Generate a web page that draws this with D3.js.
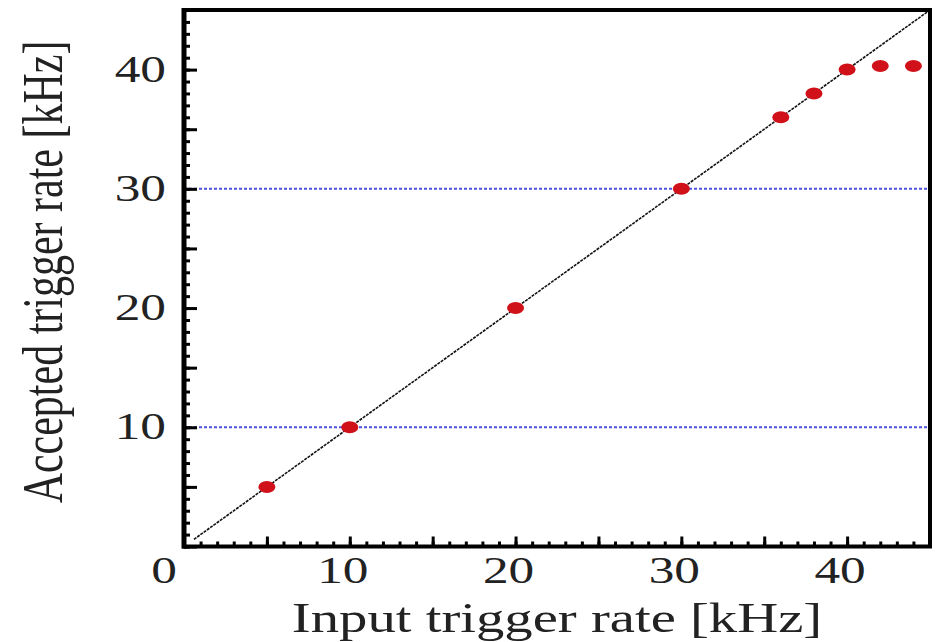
<!DOCTYPE html>
<html>
<head>
<meta charset="utf-8">
<script src="https://cdn.jsdelivr.net/npm/d3@7"></script>
<style>
	body{margin:0;background:#fff;}
	svg{display:block;}
</style>
</head>
<body>
<div class="chart"></div>
<script>
//data
const inputRate = [5, 10, 20, 30, 36, 38, 40, 42, 44];
const acceptedRate = [5, 10, 20, 30, 36, 38, 40, 40.3, 40.3];
const refLines = [10, 30];
const diagonal = [0.6, 45];
const yLabels = [10, 20, 30, 40];
const xLabels = [0, 10, 20, 30, 40];

const W = 939;
const H = 642;
const sx = 1.35; //picture is stretched sideways

const svg = d3.select('.chart')
	.append('svg')
	.attr('width', W)
	.attr('height', H);

const scaleX = d3.scaleLinear()
	.domain([0, 45])
	.range([184, 930]);
const scaleY = d3.scaleLinear()
	.domain([0, 45])
	.range([546.5, 10]);

//blue dotted reference lines
svg.selectAll('.ref')
	.data(refLines)
	.enter()
	.append('line')
	.attr('class', 'ref')
	.attr('x1', scaleX(0))
	.attr('x2', scaleX(45))
	.attr('y1', d => scaleY(d))
	.attr('y2', d => scaleY(d))
	.attr('stroke', '#5252e2')
	.attr('stroke-width', 2)
	.attr('stroke-dasharray', '3,2');

//diagonal y = x
svg.append('line')
	.attr('x1', scaleX(diagonal[0]))
	.attr('y1', scaleY(diagonal[0]))
	.attr('x2', scaleX(diagonal[1]))
	.attr('y2', scaleY(diagonal[1]))
	.attr('stroke', '#111')
	.attr('stroke-width', 1.6)
	.attr('stroke-dasharray', '3,1');

//points
svg.selectAll('.pt')
	.data(inputRate)
	.enter()
	.append('ellipse')
	.attr('class', 'pt')
	.attr('cx', d => scaleX(d))
	.attr('cy', (d, i) => scaleY(acceptedRate[i]))
	.attr('rx', 8.5)
	.attr('ry', 6)
	.attr('fill', '#d0111a');

//ticks
const axisLeftMinor = d3.axisLeft(scaleY).tickValues(d3.range(0, 46, 1)).tickSize(-6).tickFormat('');
const axisLeftMajor = d3.axisLeft(scaleY).tickValues(d3.range(0, 46, 5)).tickSize(-13).tickFormat('');
const axisBottomMinor = d3.axisBottom(scaleX).tickValues(d3.range(0, 46, 1)).tickSize(-5).tickFormat('');
const axisBottomMajor = d3.axisBottom(scaleX).tickValues(d3.range(0, 46, 5)).tickSize(-10).tickFormat('');

[axisLeftMinor, axisLeftMajor].forEach(a => {
	svg.append('g')
		.attr('transform', `translate(${scaleX(0)},0)`)
		.call(a)
		.call(g => g.select('.domain').remove())
		.selectAll('line').attr('stroke', '#000').attr('stroke-width', 3);
});
[axisBottomMinor, axisBottomMajor].forEach(a => {
	svg.append('g')
		.attr('transform', `translate(0,${scaleY(0)})`)
		.call(a)
		.call(g => g.select('.domain').remove())
		.selectAll('line').attr('stroke', '#000').attr('stroke-width', 3);
});

//frame
svg.append('rect')
	.attr('x', scaleX(0))
	.attr('y', scaleY(45))
	.attr('width', scaleX(45) - scaleX(0))
	.attr('height', scaleY(0) - scaleY(45))
	.attr('fill', 'none')
	.attr('stroke', '#000')
	.attr('stroke-width', 4);
svg.append('line')
	.attr('x1', scaleX(0))
	.attr('x2', scaleX(0))
	.attr('y1', scaleY(45) - 2)
	.attr('y2', scaleY(0) + 2)
	.attr('stroke', '#000')
	.attr('stroke-width', 5);

//labels
const font = '"Liberation Serif", "DejaVu Serif", serif';

svg.selectAll('.ylab')
	.data(yLabels)
	.enter()
	.append('text')
	.attr('class', 'ylab')
	.attr('transform', d => `translate(${scaleX(0) - 18},${scaleY(d) + 12}) scale(${sx},1)`)
	.attr('text-anchor', 'end')
	.style('font-family', font)
	.style('font-size', '38px')
	.style('fill', '#222')
	.text(d => d);

//x labels, the 0 sits left of the corner
svg.selectAll('.xlab')
	.data(xLabels)
	.enter()
	.append('text')
	.attr('class', 'xlab')
	.attr('transform', d => `translate(${scaleX(d) - (d === 0 ? 20 : 7)},${scaleY(0) + 36}) scale(${sx},1)`)
	.attr('text-anchor', 'middle')
	.style('font-family', font)
	.style('font-size', '38px')
	.style('fill', '#222')
	.text(d => d);

svg.append('text')
	.attr('transform', `translate(557,632) scale(${sx},1)`)
	.attr('text-anchor', 'middle')
	.style('font-family', font)
	.style('font-size', '42px')
	.style('fill', '#222')
	.text('Input trigger rate [kHz]');

svg.append('text')
	.attr('transform', `translate(62,272) scale(${sx},1) rotate(-90)`)
	.attr('text-anchor', 'middle')
	.style('font-family', font)
	.style('font-size', '42px')
	.style('fill', '#222')
	.text('Accepted trigger rate [kHz]');
</script>
</body>
</html>
